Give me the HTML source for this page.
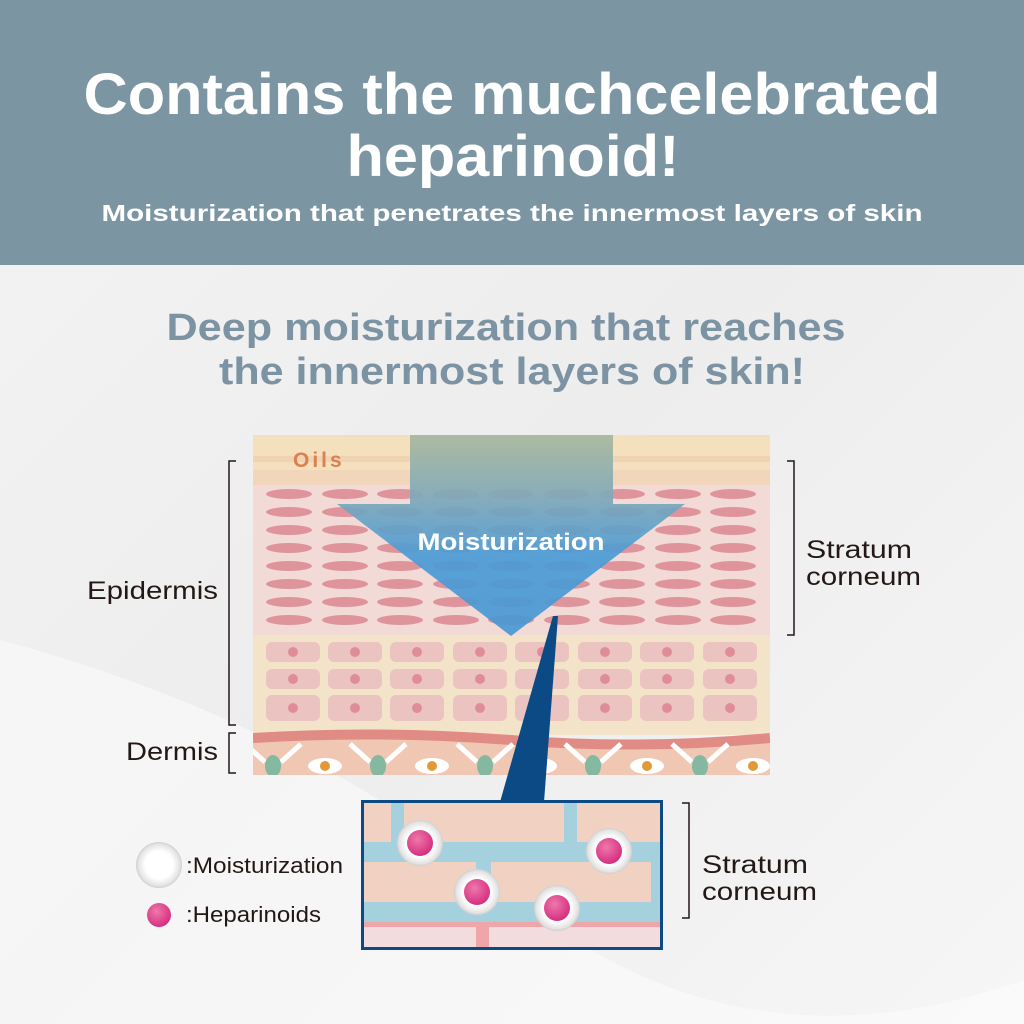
<!DOCTYPE html>
<html><head><meta charset="utf-8"><style>
html,body{margin:0;padding:0;width:1024px;height:1024px;overflow:hidden;font-family:"Liberation Sans",sans-serif}
</style></head><body>
<svg id="s" width="1024" height="1024" viewBox="0 0 1024 1024" xmlns="http://www.w3.org/2000/svg">
<defs>
<linearGradient id="bg" x1="0" y1="0" x2="1" y2="1">
<stop offset="0" stop-color="#f4f4f4"/><stop offset="0.5" stop-color="#ededed"/><stop offset="1" stop-color="#f6f6f6"/></linearGradient>
<linearGradient id="ag" x1="0" y1="0" x2="0" y2="1">
<stop offset="0" stop-color="#a6b79f"/><stop offset="0.3" stop-color="#7fa9b8"/><stop offset="0.6" stop-color="#4a9bd6"/><stop offset="1" stop-color="#4898d4"/></linearGradient>
<radialGradient id="pk" cx="0.4" cy="0.35" r="0.7"><stop offset="0" stop-color="#ee78ab"/><stop offset="1" stop-color="#d42a7c"/></radialGradient>
<radialGradient id="bub" cx="0.5" cy="0.5" r="0.5"><stop offset="0.6" stop-color="#ffffff"/><stop offset="0.9" stop-color="#e4e4e4"/><stop offset="1" stop-color="#cfcfcf"/></radialGradient>
<clipPath id="dc"><rect x="253" y="435" width="517" height="340"/></clipPath>
<clipPath id="ic"><rect x="363" y="802" width="298" height="146"/></clipPath>
</defs>
<rect width="1024" height="1024" fill="url(#bg)"/>
<path d="M0 640 Q300 720 520 900 T1024 980 L1024 1024 L0 1024Z" fill="#ffffff" opacity="0.45"/>
<rect width="1024" height="265" fill="#7b95a3"/>
<g fill="#fff" font-weight="bold" text-anchor="middle">
<text x="512" y="114" font-size="58" textLength="857" lengthAdjust="spacingAndGlyphs">Contains the muchcelebrated</text>
<text x="513" y="176" font-size="58" textLength="333" lengthAdjust="spacingAndGlyphs">heparinoid!</text>
<text x="512" y="221" font-size="23" textLength="821" lengthAdjust="spacingAndGlyphs">Moisturization that penetrates the innermost layers of skin</text>
</g>
<g fill="#7b93a3" font-weight="bold" text-anchor="middle" font-size="38">
<text x="506" y="340" textLength="679" lengthAdjust="spacingAndGlyphs">Deep moisturization that reaches</text>
<text x="512" y="384" textLength="586" lengthAdjust="spacingAndGlyphs">the innermost layers of skin!</text>
</g>
<g clip-path="url(#dc)" id="diag">
<rect x="253" y="435" width="517" height="50" fill="#f4e0bd"/>
<rect x="253" y="456" width="517" height="6" fill="#efd3b4"/>
<rect x="253" y="470" width="517" height="15" fill="#f2d6bb"/>
<rect x="253" y="485" width="517" height="150" fill="#f2dad6"/>
<rect x="253" y="635" width="517" height="100" fill="#f3e4c9"/>
<path d="M253 738 Q380 730 511 740 T770 738 L770 775 L253 775Z" fill="#efc7b3"/>
<path d="M253 738 Q380 730 511 740 T770 738" stroke="#e08c85" stroke-width="10" fill="none"/>
<text x="293" y="467" font-size="21" fill="#d98150" font-weight="bold" letter-spacing="3">Oils</text>
</g>
<rect x="361" y="800" width="302" height="150" fill="#fff"/>
<g clip-path="url(#ic)">
<rect x="363" y="802" width="298" height="146" fill="#a5d0dd"/>
<rect x="363" y="802" width="28" height="40" fill="#f1d2c2"/>
<rect x="404" y="802" width="160" height="40" fill="#f1d2c2"/>
<rect x="577" y="802" width="84" height="40" fill="#f1d2c2"/>
<rect x="363" y="862" width="113" height="40" fill="#f1d2c2"/>
<rect x="491" y="862" width="160" height="40" fill="#f1d2c2"/>
<rect x="363" y="922" width="298" height="26" fill="#f0a5a9"/>
<rect x="363" y="927" width="113" height="21" fill="#f3dcdd"/>
<rect x="489" y="927" width="172" height="21" fill="#f3dcdd"/>
</g>
<rect x="362.5" y="801.5" width="299" height="147" fill="none" stroke="#0b4a85" stroke-width="3"/>
<g stroke="#231815" stroke-width="1.5" fill="none">
<path d="M236 461 H229 V725 H236"/>
<path d="M236 733 H229 V773 H236"/>
<path d="M787 461 H794 V635 H787"/>
<path d="M682 803 H689 V918 H682"/>
</g>
<g fill="#231815" font-size="25">
<text x="218" y="599" text-anchor="end" textLength="131" lengthAdjust="spacingAndGlyphs">Epidermis</text>
<text x="218" y="760" text-anchor="end" textLength="92" lengthAdjust="spacingAndGlyphs">Dermis</text>
<text x="806" y="558" textLength="106" lengthAdjust="spacingAndGlyphs">Stratum</text>
<text x="806" y="585" textLength="115" lengthAdjust="spacingAndGlyphs">corneum</text>
<text x="702" y="873" textLength="106" lengthAdjust="spacingAndGlyphs">Stratum</text>
<text x="702" y="900" textLength="115" lengthAdjust="spacingAndGlyphs">corneum</text>
<text x="186" y="873" font-size="22" textLength="157" lengthAdjust="spacingAndGlyphs">:Moisturization</text>
<text x="186" y="922" font-size="22" textLength="135" lengthAdjust="spacingAndGlyphs">:Heparinoids</text>
</g>
<circle cx="159" cy="865" r="23" fill="url(#bub)"/>
<circle cx="159" cy="915" r="12" fill="url(#pk)"/>
</svg>
<script>
var s=document.getElementById('s'),d=document.getElementById('diag'),NS='http://www.w3.org/2000/svg';
function el(p,t,a){var e=document.createElementNS(NS,t);for(var k in a)e.setAttribute(k,a[k]);p.appendChild(e);return e;}
var cx=[289,345,400,456,511,567,622,678,733],ry=[494,512,530,548,566,584,602,620];
ry.forEach(function(y){cx.forEach(function(x){el(d,'ellipse',{cx:x,cy:y,rx:23,ry:5,fill:'#df949c'});});});
var cc=[293,355,417,480,542,605,667,730],rr=[[652,20],[679,20],[708,26]];
rr.forEach(function(r){cc.forEach(function(x){el(d,'rect',{x:x-27,y:r[0]-r[1]/2,width:54,height:r[1],rx:6,fill:'#ebc3c0'});el(d,'circle',{cx:x,cy:r[0],r:5,fill:'#df8e99'});});});
[273,378,485,593,700].forEach(function(x){el(d,'path',{d:'M'+(x-28)+' 744 L'+(x-8)+' 762 M'+(x+8)+' 762 L'+(x+28)+' 744',stroke:'#fff','stroke-width':5,fill:'none'});el(d,'ellipse',{cx:x,cy:766,rx:8,ry:11,fill:'#84b8a1'});});
[325,432,540,647,753].forEach(function(x){el(d,'ellipse',{cx:x,cy:766,rx:17,ry:8,fill:'#fff'});el(d,'circle',{cx:x,cy:766,r:5,fill:'#e09a3a'});});
var g=el(d,'g',{opacity:0.92});
el(g,'path',{d:'M410 435 H613 V504 H685 L511 636 L337 504 H410Z',fill:'url(#ag)'});
var t=el(d,'text',{x:511,y:550,'font-size':24,'font-weight':'bold',fill:'#fff','text-anchor':'middle',textLength:187,lengthAdjust:'spacingAndGlyphs'});t.textContent='Moisturization';
el(s,'path',{d:'M553 616 L558 616 L544 802 L500 802Z',fill:'#0b4a85'});
[[420,843],[609,851],[477,892],[557,908]].forEach(function(p){el(s,'circle',{cx:p[0],cy:p[1],r:23,fill:'url(#bub)'});el(s,'circle',{cx:p[0],cy:p[1],r:13,fill:'url(#pk)'});});
</script>
</body></html>
